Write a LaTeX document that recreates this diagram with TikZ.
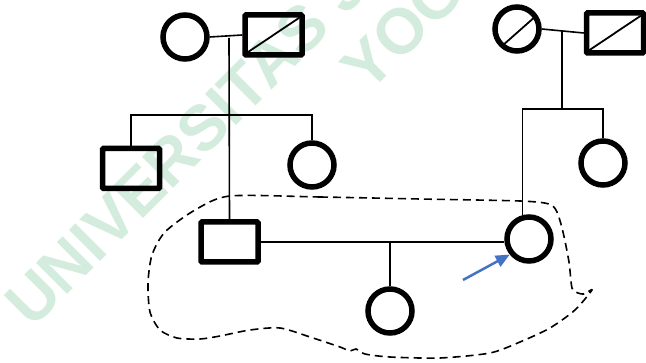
\documentclass[tikz,border=0pt]{standalone}
\usepackage{fontspec}
\setmainfont{Liberation Sans}
\usetikzlibrary{arrows.meta}
\definecolor{wm}{RGB}{212,236,222}
\definecolor{arrowblue}{RGB}{68,114,196}
\begin{document}
\begin{tikzpicture}[x=1pt,y=-1pt,
  fem/.style={circle,draw,line width=5.5pt,minimum size=44pt,inner sep=0pt},
  mal/.style={rectangle,draw,line width=5.5pt,minimum width=57pt,minimum height=40pt,inner sep=0pt,rounded corners=1pt},
  link/.style={line width=1.6pt},
  slash/.style={line width=1.8pt},
  famline/.style={line width=1.6pt,dash pattern=on 8pt off 5pt},
  wmark/.style={text=wm,font=\bfseries\fontsize{64}{74}\selectfont,rotate=45,anchor=base west,inner sep=0pt}]
\useasboundingbox (0,0) rectangle (646,363);
\begin{scope}
\clip (0,0) rectangle (646,363);
\node[wmark] (w1) at (32,330) {UNIVERSITAS J};
\node[wmark] (w2) at (368,95) {YOG};
\end{scope}
% generation I
\node[fem] (c1) at (185,37) {};
\node[mal] (s1) at (273.5,35) {};
\node[fem] (c3) at (517,29) {};
\node[mal] (s4) at (615,33) {};
% generation II
\node[mal] (s2) at (131,168.5) {};
\node[fem] (c2) at (312,165) {};
\node[fem] (c4) at (603,163) {};
% generation III
\node[mal] (s3) at (229.5,242) {};
\node[fem] (p) at (529,239) {};
% generation IV
\node[fem] (ch) at (390,311) {};
% slashes
\draw[slash] ([shift={(5.5,-5.5)}]s1.south west) -- ([shift={(-5.5,5.5)}]s1.north east);
\draw[slash] ([shift={(5.5,-5.5)}]s4.south west) -- ([shift={(-5.5,5.5)}]s4.north east);
\draw[slash,shorten <=5pt,shorten >=5pt] (c3.228) -- (c3.35);
% connectors
\coordinate (m1) at (229,38);
\coordinate (sib1) at (229,115);
\coordinate (m2) at (562,31);
\coordinate (sib2) at (562,109);
\draw[link] (c1.east) -- (s1.west);
\draw[link] (m1) -- (s3.north);
\draw[link] (s2.north) -- (s2.north |- sib1) -- (c2.north |- sib1) -- (c2.north);
\draw[link] (s3.east) -- (s3.east -| p.west);
\draw[link] (ch.north |- s3.east) -- (ch.north);
\draw[link] (c3.east) -- (s4.west);
\draw[link] (m2) -- (sib2);
\draw[link] (p.105) -- (p.105 |- sib2) -- (c4.north |- sib2) -- (c4.north);
% proband arrow
\coordinate (a0) at (463,280);
\draw[arrowblue,line width=2.5pt,-{Triangle[length=14pt,width=12pt]}] (a0) -- (p.219);
% family boundary
\draw[famline] plot[smooth cycle,tension=0.45] coordinates {
 (230,196) (320,197) (420,199) (520,201) (549,204) (557,212) (563,232) (569,262)
 (572,288) (578,293) (584,294) (592,290) (575,310) (550,328) (520,342) (490,353)
 (440,358) (390,357) (365,354) (356,349) (350,351) (340,347) (310,337) (280,328)
 (250,330) (220,336) (200,339) (177,338) (160,330) (150,312) (148,283) (152,255)
 (165,232) (195,210)};
\end{tikzpicture}
\end{document}
